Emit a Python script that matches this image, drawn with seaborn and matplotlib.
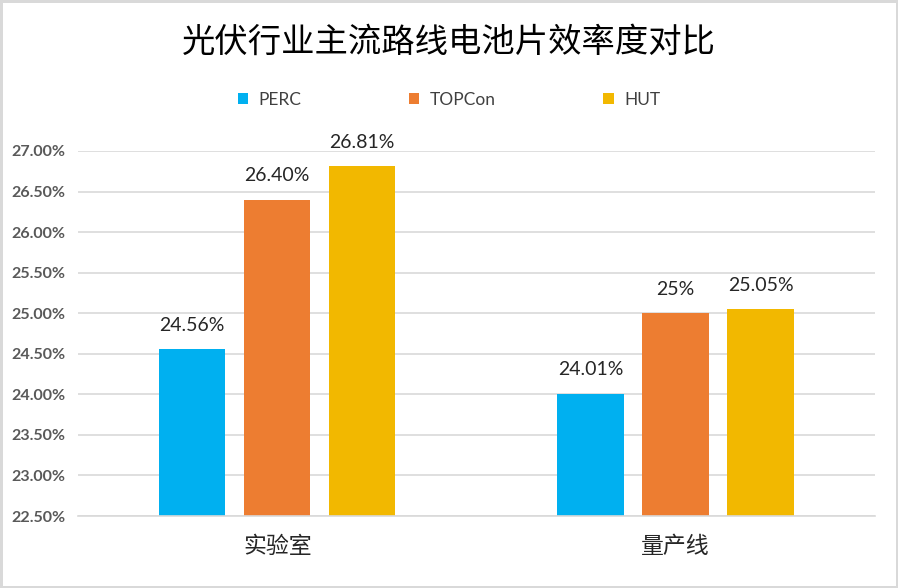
import matplotlib
matplotlib.use('Agg')
import matplotlib.pyplot as plt
import seaborn as sns
import pandas as pd
from matplotlib.ticker import FuncFormatter, MultipleLocator

categories = ["实验室", "量产线"]
series = ["PERC", "TOPCon", "HUT"]
perc = [24.56, 24.01]
topcon = [26.40, 25.00]
hut = [26.81, 25.05]
value_labels = {
    "PERC": ["24.56%", "24.01%"],
    "TOPCon": ["26.40%", "25%"],
    "HUT": ["26.81%", "25.05%"],
}
colors = ["#00B0F0", "#ED7D31", "#F2B800"]

rows = []
for name, vals in zip(series, [perc, topcon, hut]):
    for cat, v in zip(categories, vals):
        rows.append({"类别": cat, "路线": name, "效率": v})
df = pd.DataFrame(rows)

sns.set_theme(style="white")
plt.rcParams['font.family'] = ['Lato', 'Noto Sans CJK SC', 'DejaVu Sans']

fig = plt.figure(figsize=(8.98, 5.88), dpi=100)
fig.patch.set_edgecolor('#D9D9D9')
fig.patch.set_linewidth(2.5)
ax = fig.add_axes([0.087, 0.1224, 0.887, 0.6208])

sns.barplot(data=df, x="类别", y="效率", hue="路线", hue_order=series,
            palette=colors, width=0.64, gap=0.22, saturation=1,
            linewidth=0, edgecolor='none', ax=ax)

handles, labels = ax.get_legend_handles_labels()
ax.get_legend().remove()
fig.legend(handles, labels, loc='center', bbox_to_anchor=(0.5, 1 - 100 / 588),
           ncol=3, frameon=False, fontsize=12.5, handlelength=0.6, handleheight=0.6,
           handletextpad=0.6, columnspacing=6.2, labelcolor='#404040')

for cont, name in zip(ax.containers, series):
    ax.bar_label(cont, labels=value_labels[name], padding=11, fontsize=14, color='#262626')

ax.set_ylim(22.5, 27.0)
ax.yaxis.set_major_locator(MultipleLocator(0.5))
ax.yaxis.set_major_formatter(FuncFormatter(lambda v, p: f"{v:.2f}%"))
ax.yaxis.grid(True, color='#D9D9D9', linewidth=1.2)
ax.set_axisbelow(True)
for s in ['left', 'top', 'right']:
    ax.spines[s].set_visible(False)
ax.spines['bottom'].set_color('#D9D9D9')
ax.spines['bottom'].set_linewidth(1.2)
ax.tick_params(axis='y', length=0, pad=9, labelsize=11.5, labelcolor='#595959')
ax.tick_params(axis='x', length=0, pad=14, labelsize=16.5, labelcolor='#262626')
for t in ax.get_yticklabels():
    t.set_fontweight('bold')
ax.set_xlabel('')
ax.set_ylabel('')

fig.text(0.5, 1 - 42 / 588, "光伏行业主流路线电池片效率度对比", ha='center', va='center',
         fontsize=24, color='black', family=['Noto Sans CJK SC', 'DejaVu Sans'])

fig.savefig('out.png', dpi=100)
